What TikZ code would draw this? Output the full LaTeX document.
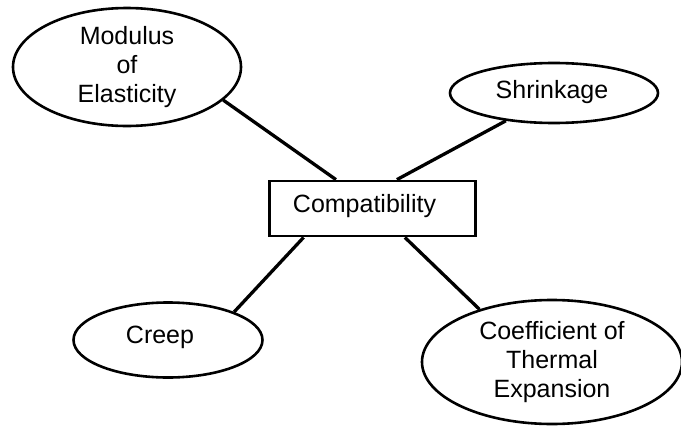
\documentclass[tikz,border=0pt]{standalone}
\usepackage{fontspec}
\setmainfont{Liberation Sans}
\usetikzlibrary{shapes.geometric,calc}
\begin{document}
\begin{tikzpicture}[x=1pt,y=-1pt,
  every node/.style={font=\fontsize{25}{29}\selectfont, align=center, inner sep=0pt},
  topic/.style={ellipse, draw, line width=2.6pt},
  hub/.style={rectangle, draw, line width=2.8pt},
  link/.style={line width=3.3pt}]
\useasboundingbox (0,0) rectangle (681,426);

% central concept
\node[hub, minimum width=206pt, minimum height=55pt,
      label={[xshift=-8pt,yshift=2pt]center:Compatibility}] (comp) at (372.5,208.5) {};

% surrounding properties
\node[topic, minimum width=228pt, minimum height=118pt] (mod) at (127,67)
  {Modulus\\of\\Elasticity};
\node[topic, minimum width=208pt, minimum height=60pt] (shr) at (554,93) {};
\node at ($(shr)+(-2,-1)$) (shrtext) {Shrinkage};
\node[topic, minimum width=189pt, minimum height=75pt] (crp) at (168,340) {};
\node at ($(crp)+(-8,-3)$) (crptext) {Creep};
\node[topic, minimum width=260pt, minimum height=124pt] (cte) at (552,362)
  {Coefficient of\\Thermal\\Expansion};

% connectors
\draw[link] (mod.-19) -- ($(comp.north west)!0.325!(comp.north east)$);
\draw[link] (shr.-150) -- ($(comp.north west)!0.617!(comp.north east)$);
\draw[link] (crp.23.6) -- ($(comp.south west)!0.17!(comp.south east)$);
\draw[link] (cte.144.5) -- ($(comp.south west)!0.655!(comp.south east)$);
\end{tikzpicture}
\end{document}
